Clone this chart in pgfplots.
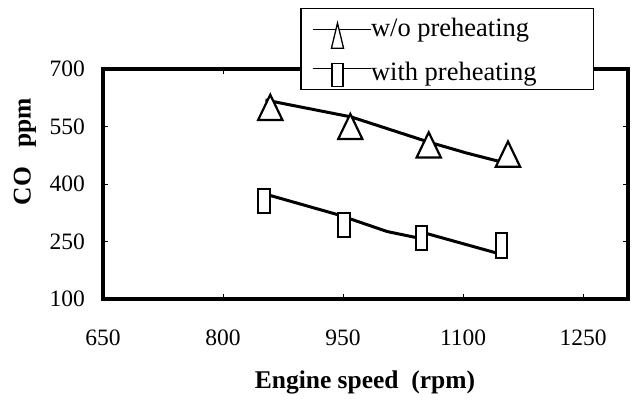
\documentclass[border=0pt]{standalone}
\usepackage{fontspec}
\setmainfont{Liberation Serif}
\usepackage{pgfplots}
\pgfplotsset{compat=1.18}

\begin{document}
\begin{tikzpicture}[x=1pt,y=1pt]
\path[use as bounding box] (0,0) rectangle (634,401);
\begin{axis}[
    at={(103pt,102pt)}, anchor=south west,
    scale only axis, width=525pt, height=230pt,
    xmin=650, xmax=1306, ymin=100, ymax=700,
    xtick={650,800,...,1250}, ytick={100,250,...,700},
    axis line style={line width=3.5pt},
    tick align=inside, major tick length=5pt,
    tick style={line width=0.8pt, black},
    /pgf/number format/assume math mode=true,
    /pgf/number format/set thousands separator={},
    ticklabel style={font=\fontsize{23.5}{26}\selectfont, inner sep=0pt},
    xticklabel style={anchor=center, yshift=-39pt},
    yticklabel style={anchor=east, xshift=-18pt},
    xlabel={Engine speed\ \ (rpm)},
    ylabel={CO\ \ \ ppm},
    label style={font=\bfseries\fontsize{25.5}{30}\selectfont},
    xlabel style={at={(axis description cs:0.499,-0.365)}, anchor=center},
    ylabel style={at={(axis description cs:-0.1486,0.64)}, anchor=center},
    legend style={at={(axis description cs:0.376,1.265)}, anchor=north west,
        draw=black, line width=1.2pt, fill=white,
        font=\fontsize{26.5}{30}\selectfont,
        inner xsep=11pt, inner ysep=1.5pt, row sep=0pt,
        nodes={inner sep=0pt, anchor=base west}},
]

% legend entries
\addlegendimage{legend image code/.code={
    \path[draw=none, fill=none] (0pt,-12pt) rectangle (58pt,26pt);
    \draw[line width=1pt] (0pt,7pt) -- (58pt,7pt);
    \draw[mark=triangle*, mark size=7pt,
          mark options={fill=white, draw=black, line width=1.3pt, yshift=-10.7pt, yscale=2.4}]
          plot coordinates {(25pt,7pt)};}}
\addlegendentry{w/o preheating}
\addlegendimage{legend image code/.code={
    \path[draw=none, fill=none] (0pt,-8pt) rectangle (58pt,32pt);
    \draw[line width=1pt] (0pt,12pt) -- (58pt,12pt);
    \draw[mark=square*, mark size=5.5pt,
          mark options={fill=white, draw=black, line width=1.3pt, yshift=-7pt, yscale=2.1}]
          plot coordinates {(25pt,12pt)};}}
\addlegendentry{with preheating\hspace*{46pt}}

% fitted lines
\addplot[forget plot, black, line width=3pt, mark=none] coordinates {
    (853,619) (960,575) (1056,510) (1104,481) (1143,460)
};
\addplot[forget plot, black, line width=3pt, mark=none] coordinates {
    (859,370) (945,319) (1005,276) (1042,260) (1054,271) (1140,221)
};

% measured points
\addplot[forget plot, only marks, mark=triangle*, mark size=14pt,
    mark options={fill=white, draw=black, line width=2.2pt, yshift=-4.2pt, yscale=1.2}]
    coordinates {(859,600) (959,550) (1057,502) (1156,478)};
\addplot[forget plot, only marks, mark=square*, mark size=5.8pt,
    mark options={fill=white, draw=black, line width=2pt, yscale=2.1}]
    coordinates {(851,356) (951,293) (1048,259) (1148,240)};

\end{axis}
\end{tikzpicture}
\end{document}
